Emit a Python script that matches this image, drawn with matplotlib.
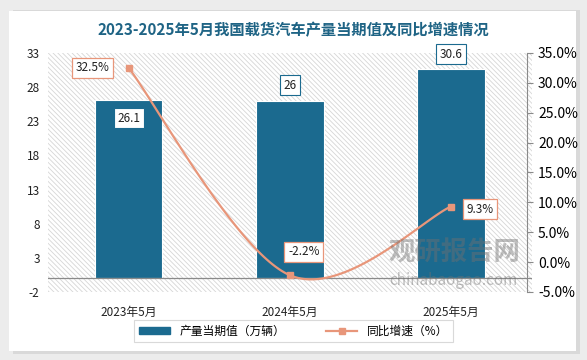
import numpy as np
import matplotlib.pyplot as plt
from matplotlib.patches import Rectangle, FancyBboxPatch

plt.rcParams['font.family'] = ['Noto Sans CJK SC', 'DejaVu Sans']
plt.rcParams['hatch.linewidth'] = 0.6

# ---- data ----
months = ['2023年5月', '2024年5月', '2025年5月']
output = [26.1, 26.0, 30.6]          # 产量当期值（万辆）
growth = [32.5, -2.2, 9.3]           # 同比增速（%）
left_ticks = [-2, 3, 8, 13, 18, 23, 28, 33]
right_ticks = [-5, 0, 5, 10, 15, 20, 25, 30, 35]

bar_color = '#1B6A8F'
line_color = '#E8967A'
title_color = '#1F6485'


def smooth(xs, ys, n=60):
    # excel-like smoothed line: cubic bezier with catmull-rom control points
    xs = np.asarray(xs, float)
    ys = np.asarray(ys, float)
    px, py = [], []
    for i in range(len(xs) - 1):
        x0, y0 = (xs[i - 1], ys[i - 1]) if i > 0 else (xs[i], ys[i])
        x3, y3 = (xs[i + 2], ys[i + 2]) if i + 2 < len(xs) else (xs[i + 1], ys[i + 1])
        x1, y1 = xs[i], ys[i]
        x2, y2 = xs[i + 1], ys[i + 1]
        c1 = (x1 + (x2 - x0) / 6, y1 + (y2 - y0) / 6)
        c2 = (x2 - (x3 - x1) / 6, y2 - (y3 - y1) / 6)
        t = np.linspace(0, 1, n)
        bx = (1 - t) ** 3 * x1 + 3 * (1 - t) ** 2 * t * c1[0] + 3 * (1 - t) * t ** 2 * c2[0] + t ** 3 * x2
        by = (1 - t) ** 3 * y1 + 3 * (1 - t) ** 2 * t * c1[1] + 3 * (1 - t) * t ** 2 * c2[1] + t ** 3 * y2
        px.extend(bx)
        py.extend(by)
    return np.array(px), np.array(py)


fig = plt.figure(figsize=(5.87, 3.6), dpi=100)
fig.patch.set_facecolor('#ececec')
# white card with soft shadow
fig.patches.append(FancyBboxPatch((0.022, 0.016), 0.966, 0.955, boxstyle='square,pad=0',
                                  transform=fig.transFigure, facecolor='#d9d9d9',
                                  edgecolor='none', zorder=-10))
fig.patches.append(FancyBboxPatch((0.016, 0.025), 0.966, 0.945, boxstyle='square,pad=0',
                                  transform=fig.transFigure, facecolor='white',
                                  edgecolor='none', zorder=-9))

ax = fig.add_axes([0.0818, 0.189, 0.824, 0.664])
ax.set_facecolor('none')
x = np.arange(len(months))
ax.set_xlim(-0.5, 2.5)
ax.set_ylim(-2, 33)

# hatched plot background
ax.add_patch(Rectangle((0, 0), 1, 1, transform=ax.transAxes, facecolor='white',
                       edgecolor='#d6d6d6', hatch='\\' * 7, linewidth=0, zorder=0))

bars = ax.bar(x, output, width=0.42, color=bar_color, edgecolor='white', linewidth=0.8, zorder=2)
ax.axhline(0, color='#8a8a8a', linewidth=0.9, zorder=3)

ax.set_yticks(left_ticks)
ax.set_yticklabels([str(v) for v in left_ticks], fontsize=8.5, color='#222222')
ax.set_xticks(x)
ax.set_xticklabels(months, fontsize=8.5, color='#222222')
ax.tick_params(axis='both', length=0, pad=6)
ax.tick_params(axis='x', pad=10)
for s in ax.spines.values():
    s.set_visible(False)

bbox_bar = dict(boxstyle='square,pad=0.3', facecolor='white', edgecolor=bar_color, linewidth=0.8)
bar_offsets = [-13, 11, 11]
for xi, v, off in zip(x, output, bar_offsets):
    ax.annotate(f'{v:g}', (xi, v), xytext=(0, off), textcoords='offset points',
                ha='center', va='center', fontsize=8.5, color='#222222', bbox=bbox_bar, zorder=6)

ax2 = ax.twinx()
ax2.set_ylim(-5, 35)
ax2.set_yticks(right_ticks)
ax2.set_yticklabels([f'{v:.1f}%' for v in right_ticks], fontsize=8.5, color='#222222')
for s in ['top', 'left', 'bottom']:
    ax2.spines[s].set_visible(False)
ax2.spines['right'].set_color('#8a8a8a')
ax2.spines['right'].set_linewidth(0.8)
ax2.spines['right'].set_position(('axes', 0.99))
ax2.tick_params(axis='y', length=4, color='#8a8a8a', pad=4, direction='out')

sx, sy = smooth(x, growth)
ax2.plot(sx, sy, color=line_color, linewidth=1.6, zorder=4)
ax2.plot(x, growth, linestyle='none', marker='s', markersize=5, color=line_color, zorder=5)

bbox_line = dict(boxstyle='square,pad=0.3', facecolor='white', edgecolor=line_color, linewidth=0.9)
line_offsets = [(-26, 0), (10, 17), (21, -2)]
for xi, v, (dx, dy) in zip(x, growth, line_offsets):
    ax2.annotate(f'{v:.1f}%', (xi, v), xytext=(dx, dy), textcoords='offset points',
                 ha='center', va='center', fontsize=8.5, color='#222222', bbox=bbox_line, zorder=6)

# watermark
fig.text(0.775, 0.297, '观研报告网', fontsize=19, fontweight='bold', color='#707070',
         alpha=0.45, ha='center', va='center')
fig.text(0.772, 0.222, 'chinabaogao.com', fontsize=11, color='#707070',
         alpha=0.45, ha='center', va='center')

fig.text(0.5, 0.915, '2023-2025年5月我国载货汽车产量当期值及同比增速情况',
         fontsize=11, fontweight='bold', color=title_color, ha='center', va='center')

h1 = plt.Rectangle((0, 0), 1, 1, color=bar_color)
h2, = plt.plot([], [], color=line_color, marker='s', markersize=5, linewidth=1.6)
leg = fig.legend([h1, h2], ['产量当期值（万辆）', '同比增速（%）'], loc='center',
                 bbox_to_anchor=(0.5, 0.08), ncol=2, fontsize=8.5, frameon=True,
                 fancybox=False, edgecolor='#d0d0d0', handlelength=2.6, handleheight=0.5,
                 columnspacing=3.5, borderpad=0.4)
leg.get_frame().set_linewidth(0.8)

fig.savefig('out.png', dpi=100)
